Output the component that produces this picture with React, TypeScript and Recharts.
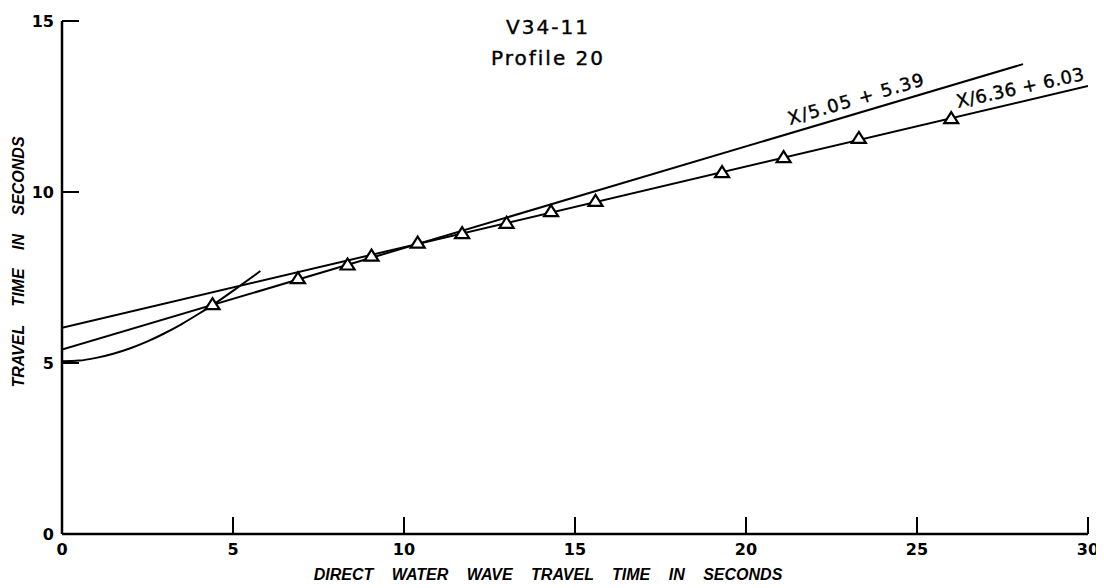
import React from 'react';
import { ComposedChart, Line, Scatter, XAxis, YAxis, ReferenceDot } from 'recharts';

const xTicks = [0, 5, 10, 15, 20, 25, 30];
const yTicks = [0, 5, 10, 15];

const observedX = [4.4, 6.9, 8.35, 9.05, 10.4, 11.7, 13.0, 14.3, 15.6, 19.3, 21.1, 23.3, 26.0];
const observedY = [6.72, 7.48, 7.88, 8.14, 8.52, 8.8, 9.1, 9.44, 9.74, 10.58, 11.02, 11.58, 12.16];

const fit1X = [0, 28.1];
const fit1Y = [5.39, 13.74];
const fit2X = [0, 30];
const fit2Y = [6.03, 13.1];

const curveX = [0, 0.5, 1, 1.5, 2, 2.5, 3, 3.5, 4, 4.5, 5, 5.5, 5.8];
const curveY = [5.05, 5.07, 5.15, 5.27, 5.43, 5.63, 5.87, 6.14, 6.44, 6.76, 7.11, 7.47, 7.69];

const fit1Label = 'X/5.05 + 5.39';
const fit2Label = 'X/6.36 + 6.03';
const title1 = 'V34-11';
const title2 = 'Profile 20';
const xTitle = 'DIRECT WATER WAVE TRAVEL TIME IN SECONDS';
const yTitle = 'TRAVEL TIME IN SECONDS';

const zip = (xs: number[], ys: number[]) => xs.map((x, i) => ({ x, y: ys[i] }));
const observed = zip(observedX, observedY);
const fit1 = zip(fit1X, fit1Y);
const fit2 = zip(fit2X, fit2Y);
const curve = zip(curveX, curveY);

const FONT = '"DejaVu Sans", Arial, sans-serif';
const TFONT = '"Liberation Sans", Arial, sans-serif';

const XTick = (props: any) => {
  const { x, y, payload } = props;
  return (
    <g>
      {payload.value !== 0 && (
        <line x1={x} y1={y} x2={x} y2={y - 17} stroke="#000" strokeWidth={2} />
      )}
      <text x={x} y={y + 21} textAnchor="middle" fontSize={16} fontFamily={FONT} fontWeight="bold" fill="#000">
        {payload.value}
      </text>
    </g>
  );
};

const YTick = (props: any) => {
  const { x, y, payload } = props;
  return (
    <g>
      {payload.value !== 0 && (
        <line x1={x} y1={y} x2={x + 17} y2={y} stroke="#000" strokeWidth={2} />
      )}
      <text x={x - 8} y={y + 6} textAnchor="end" fontSize={16} fontFamily={FONT} fontWeight="bold" fill="#000">
        {payload.value}
      </text>
    </g>
  );
};

const Tri = (p: any) => {
  const { cx, cy } = p;
  if (cx == null || cy == null) return null;
  return (
    <path
      d={`M${cx},${cy - 6} L${cx + 7},${cy + 5} L${cx - 7},${cy + 5} Z`}
      fill="#fff"
      stroke="#000"
      strokeWidth={2.2}
      strokeLinejoin="miter"
    />
  );
};

const makeLabel = (text: string, angle: number, spacing: number) => (p: any) => {
  const { cx, cy } = p;
  return (
    <text
      x={cx}
      y={cy}
      transform={`rotate(${-angle} ${cx} ${cy})`}
      fontSize={18}
      fontFamily={FONT}
      letterSpacing={spacing}
      fill="#000"
      stroke="#000"
      strokeWidth={0.4}
    >
      {text}
    </text>
  );
};

const titleStyle: React.CSSProperties = {
  position: 'absolute',
  left: 390,
  width: 300,
  textAlign: 'center',
  fontFamily: FONT,
  fontSize: 20,
  letterSpacing: 2,
  lineHeight: '24px',
  WebkitTextStroke: '0.4px #000',
  color: '#000',
};

const axisTitleStyle: React.CSSProperties = {
  position: 'absolute',
  textAlign: 'center',
  fontFamily: TFONT,
  fontSize: 16,
  fontWeight: 'bold',
  fontStyle: 'italic',
  wordSpacing: 14,
  lineHeight: '16px',
  whiteSpace: 'nowrap',
  color: '#000',
};

export default function App() {
  return (
    <div style={{ position: 'relative', width: 1096, height: 572 }}>
      <ComposedChart
        width={1096}
        height={572}
        margin={{ top: 13, right: 16, left: 0, bottom: 16 }}
      >
        <XAxis
          type="number"
          dataKey="x"
          domain={[0, 30]}
          ticks={xTicks}
          interval={0}
          tickSize={0}
          tickMargin={0}
          tickLine={false}
          tick={<XTick />}
          axisLine={{ stroke: '#000', strokeWidth: 2.5 }}
          height={30}
          allowDataOverflow
        />
        <YAxis
          type="number"
          dataKey="y"
          domain={[0, 15]}
          ticks={yTicks}
          interval={0}
          tickSize={0}
          tickMargin={0}
          tickLine={false}
          tick={<YTick />}
          axisLine={{ stroke: '#000', strokeWidth: 2.5 }}
          width={54}
          allowDataOverflow
        />
        <Line data={fit1} dataKey="y" type="linear" stroke="#000" strokeWidth={2} dot={false} isAnimationActive={false} />
        <Line data={fit2} dataKey="y" type="linear" stroke="#000" strokeWidth={2} dot={false} isAnimationActive={false} />
        <Line data={curve} dataKey="y" type="monotone" stroke="#000" strokeWidth={2} dot={false} isAnimationActive={false} />
        <Scatter data={observed} dataKey="y" shape={<Tri />} isAnimationActive={false} />
        <ReferenceDot x={21.29} y={11.96} r={0} shape={makeLabel(fit1Label, 16.5, 1.3)} />
        <ReferenceDot x={26.2} y={12.46} r={0} shape={makeLabel(fit2Label, 12.5, 0.4)} />
      </ComposedChart>
      <div style={{ ...titleStyle, top: 7 }}>{title1}</div>
      <div style={{ ...titleStyle, top: 38 }}>{title2}</div>
      <div style={{ ...axisTitleStyle, left: 240, width: 600, top: 559 }}>{xTitle}</div>
      <div style={{ ...axisTitleStyle, left: 11 - 200, width: 400, top: 254 - 8, transform: 'rotate(-90deg)' }}>
        {yTitle}
      </div>
    </div>
  );
}
